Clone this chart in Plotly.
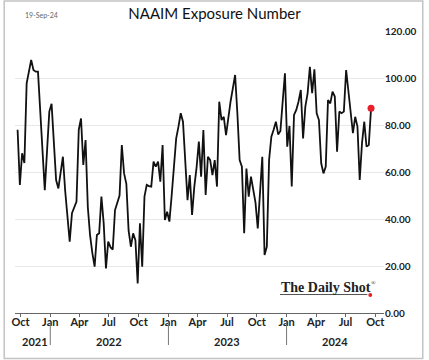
import pandas as pd
import plotly.graph_objects as go

# ---- data (weekly NAAIM exposure readings) ----
start_date = "2021-09-22"
naaim_values = [
    78, 54.5, 68, 63.8, 97.7, 103.4, 107.7, 103.4, 102.7, 102.7,
    85, 68, 52.3, 69, 85.7, 89, 72, 56.6, 53, 60,
    66.5, 52, 40, 30.4, 42.5, 45, 47.4, 78, 82.8, 63,
    73.6, 45, 33, 25.5, 19.7, 33.2, 33.9, 49.5, 38.2, 19,
    30.4, 28, 27, 43.8, 47, 50, 71.5, 59.4, 55, 35,
    28.2, 33.9, 31, 12.6, 38.2, 19.7, 49.5, 54.5, 54, 53.8,
    64.4, 62.3, 64.4, 55.9, 71.5, 39.6, 43.1, 38.9, 50, 63.7,
    74.3, 79.3, 85, 81.4, 65, 48, 58.7, 41.7, 53.8, 62,
    72.9, 58, 77.9, 50.2, 66.5, 65.1, 58.7, 65.1, 53.8, 89.9,
    82.1, 83.5, 75.7, 84, 90, 95.6, 101.3, 85, 65.1, 62.3,
    33.9, 61.5, 49.5, 58, 53, 47, 36, 52, 66.5, 24.7,
    28.2, 65.1, 75, 78, 81.4, 76, 77.5, 90, 102, 70.8,
    79.6, 53.8, 84.3, 86.4, 90, 94.9, 74.3, 87.8, 93.5, 104.8,
    93.5, 103.7, 85, 82.1, 63.7, 59.4, 62.3, 90.6, 89.2, 94.2,
    92.1, 68.6, 85.7, 85, 85.7, 103.4, 93.5, 86.4, 76.5, 83.5,
    79.3, 56.6, 72.2, 81.4, 70.8, 71.5, 87.1,
]
tick_dates = ["2021-10-01", "2022-01-01", "2022-04-01", "2022-07-01", "2022-10-01",
              "2023-01-01", "2023-04-01", "2023-07-01", "2023-10-01",
              "2024-01-01", "2024-04-01", "2024-07-01", "2024-10-01"]
tick_labels = ["Oct", "Jan", "Apr", "Jul", "Oct", "Jan", "Apr", "Jul", "Oct",
               "Jan", "Apr", "Jul", "Oct"]
year_labels = ["2021", "2022", "2023", "2024"]
year_label_dates = ["2021-11-15", "2022-07-01", "2023-07-01", "2024-05-30"]
year_sep_dates = ["2022-01-01", "2023-01-01", "2024-01-01"]
y_ticks = [0, 20, 40, 60, 80, 100, 120]

dates = pd.date_range(start_date, periods=len(naaim_values), freq="7D")

W, H = 429, 360
L, R, T, B = 12, 41, 31, 47
PW, PH = W - L - R, H - T - B

def px_x(x):
    return (x - L) / PW

def px_y(y):
    return (H - B - y) / PH

fig = go.Figure()
fig.add_trace(go.Scatter(x=dates, y=naaim_values, mode="lines",
                         line=dict(color="#111111", width=1.8),
                         hoverinfo="skip", showlegend=False))
fig.add_trace(go.Scatter(x=[dates[-1]], y=[naaim_values[-1]], mode="markers",
                         marker=dict(color="#e8202a", size=7),
                         hoverinfo="skip", showlegend=False))

shapes = []
# year separators
for d in year_sep_dates:
    shapes.append(dict(type="line", xref="x", yref="paper", x0=d, x1=d,
                       y0=px_y(322), y1=px_y(345),
                       line=dict(color="#777777", width=1)))
# outer frame
shapes.append(dict(type="rect", xref="paper", yref="paper",
                   x0=px_x(1), x1=px_x(427.5), y0=px_y(358.5), y1=px_y(1),
                   line=dict(color="#c4c4c4", width=1.5)))
# logo underline and dot
shapes.append(dict(type="line", xref="paper", yref="paper",
                   x0=px_x(282), x1=px_x(371), y0=px_y(294.5), y1=px_y(294.5),
                   line=dict(color="#555555", width=1)))
shapes.append(dict(type="circle", xref="paper", yref="paper",
                   x0=px_x(372), x1=px_x(376), y0=px_y(297), y1=px_y(293),
                   fillcolor="#e8202a", line=dict(width=0)))

annotations = []
for lab, d in zip(year_labels, year_label_dates):
    annotations.append(dict(text=f"<b>{lab}</b>", x=d, xref="x", y=px_y(341.5), yref="paper",
                            showarrow=False, xanchor="center", yanchor="middle",
                            font=dict(family="Lato", size=11, color="#222222")))
annotations.append(dict(text="19-Sep-24", x=px_x(20), xref="paper", y=px_y(15), yref="paper",
                        showarrow=False, xanchor="left", yanchor="middle",
                        font=dict(family="Lato", size=7, color="#666666")))
annotations.append(dict(text="<b>The Daily Shot</b>", x=px_x(281), xref="paper", y=px_y(287),
                        yref="paper", showarrow=False, xanchor="left", yanchor="middle",
                        font=dict(family="Liberation Serif", size=14, color="#222222")))
annotations.append(dict(text="®", x=px_x(373), xref="paper", y=px_y(283),
                        yref="paper", showarrow=False, xanchor="left", yanchor="middle",
                        font=dict(family="Liberation Serif", size=6, color="#222222")))

fig.update_layout(
    width=W, height=H,
    margin=dict(l=L, r=R, t=T, b=B),
    paper_bgcolor="white", plot_bgcolor="white",
    title=dict(text="NAAIM Exposure Number", x=0.5, xref="container", xanchor="center",
               y=1 - 14 / H, yref="container", yanchor="middle",
               font=dict(family="Lato", size=15, color="#111111")),
    xaxis=dict(range=["2021-09-14", "2024-10-28"], tickvals=tick_dates, ticktext=tick_labels,
               showgrid=False, zeroline=False, showline=True, linecolor="#666666", linewidth=1,
               ticks="outside", ticklen=3, tickcolor="#666666", ticklabelstandoff=-4,
               tickfont=dict(family="Lato", size=11, color="#222222"), tickangle=0),
    yaxis=dict(range=[0, 120], tickvals=y_ticks, tickformat=".2f", side="right",
               showgrid=True, gridcolor="#e8e8e8", gridwidth=1, zeroline=False,
               showline=False, ticks="",
               tickfont=dict(family="Lato", size=10, color="#222222", weight="bold")),
    shapes=shapes, annotations=annotations,
    font=dict(family="Lato"),
)
fig.update_xaxes(tickfont_weight="bold")

fig.write_html("out.html", config={"displayModeBar": False},
               post_script="document.body.style.margin='0';document.body.style.overflow='hidden';")
